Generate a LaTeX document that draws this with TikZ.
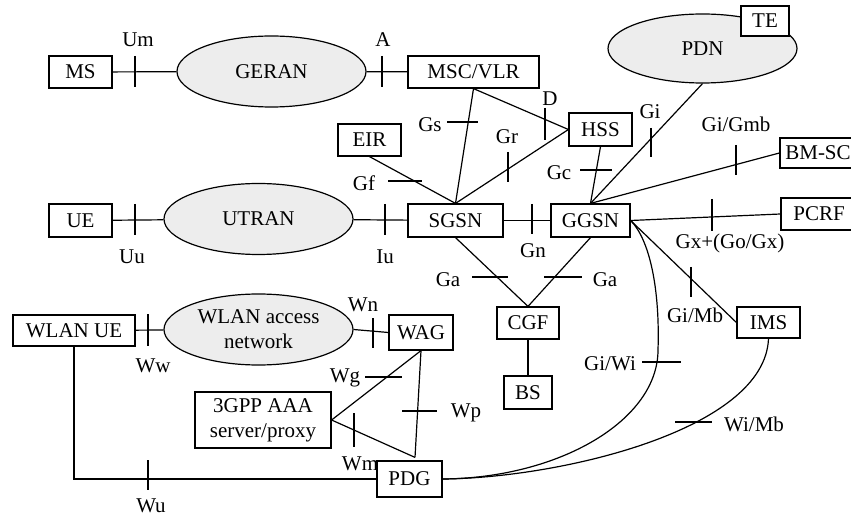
\documentclass[tikz,border=0pt]{standalone}
\usepackage{fontspec}
\setmainfont{Liberation Serif}
\usetikzlibrary{shapes.geometric}

\begin{document}
\begin{tikzpicture}[x=0.5pt,y=-0.5pt,line width=0.6pt,
    font=\fontsize{10.5}{12.5}\selectfont,
    box/.style={draw,fill=white,inner sep=2pt},
    net/.style={draw,ellipse,fill=black!7,inner sep=0pt,minimum width=94.5pt,minimum height=35.5pt}]
    \useasboundingbox (0,0) rectangle (851,518);

    % access networks
    \node[net] (geran) at (271.5,71.5) {GERAN};
    \node[net] (utran) at (258.5,219) {UTRAN};
    \node[net,align=center] (wlanan) at (258.5,329.5) {WLAN access\\network};
    \node[net,minimum height=34.5pt] (pdn) at (702.5,48.5) {\raisebox{-2pt}{PDN}};

    % network elements
    \node[box,minimum width=31.5pt,minimum height=16pt] (ms) at (80.5,72) {MS};
    \node[box,minimum width=65.5pt,minimum height=16pt] (msc) at (473.5,72) {MSC/VLR};
    \node[box,minimum width=24pt,minimum height=15pt] (te) at (765,21) {TE};
    \node[box,minimum width=31.5pt,minimum height=16pt] (eir) at (369.5,140) {EIR};
    \node[box,minimum width=31.5pt,minimum height=16.5pt] (hss) at (600.5,129.5) {HSS};
    \node[box,minimum width=38pt,minimum height=15pt] (bmsc) at (818,153) {BM-SC};
    \node[box,minimum width=31.5pt,minimum height=16.5pt] (ue) at (80.5,220.5) {UE};
    \node[box,minimum width=47.5pt,minimum height=16.5pt] (sgsn) at (455.5,220.5) {SGSN};
    \node[box,minimum width=39.5pt,minimum height=16.5pt] (ggsn) at (590.5,220.5) {GGSN};
    \node[box,minimum width=38pt,minimum height=16pt] (pcrf) at (819,214) {PCRF};
    \node[box,minimum width=31pt,minimum height=16pt] (cgf) at (528,323) {CGF};
    \node[box,minimum width=31.5pt,minimum height=15.5pt] (ims) at (768.5,322.5) {IMS};
    \node[box,minimum width=61pt,minimum height=15.5pt] (wlanue) at (74,330.5) {WLAN UE};
    \node[box,minimum width=32pt,minimum height=17.5pt] (wag) at (421,332.5) {WAG};
    \node[box,minimum width=24pt,minimum height=16.5pt] (bs) at (528,392.5) {BS};
    \node[box,minimum width=68pt,minimum height=28pt,align=center,inner sep=0pt] (aaa) at (263,420) {3GPP AAA\\server/proxy};
    \node[box,minimum width=32.5pt,minimum height=18pt] (pdg) at (409.5,479) {PDG};
    \coordinate (pdgtop) at ([xshift=2.75pt,yshift=1.5pt]pdg.north);
    \coordinate (wibend) at (658,350);

    % interfaces
    \draw (ms) -- (geran);
    \draw (geran) -- (msc);
    \draw (msc.south) -- (sgsn.north);
    \draw (msc.south) -- (hss.west);
    \draw (eir.south) -- (sgsn.north);
    \draw (sgsn.north) -- (hss.west);
    \draw (hss.south) -- (ggsn.north);
    \draw (pdn.south) -- (ggsn.north);
    \draw (bmsc.west) -- (ggsn.north);
    \draw (ue) -- (utran);
    \draw (utran) -- (sgsn);
    \draw (sgsn) -- (ggsn);
    \draw (ggsn.east) -- (pcrf.west);
    \draw (sgsn.south) -- (cgf.north);
    \draw (ggsn.south) -- (cgf.north);
    \draw (cgf) -- (bs);
    \draw (ggsn.east) -- (ims.west);
    \draw (ggsn.east) .. controls (650,240) and (660,290) .. (wibend)
        .. controls (658,420) and (560,478) .. (pdg.east);
    \draw (ims.south) .. controls (765,430) and (560,478) .. (pdg.east);
    \draw (wlanue) -- (wlanan);
    \draw (wlanan.east) -- (wag.west);
    \draw (wlanue.south) |- (pdg.west);
    \draw (aaa.east) -- (wag.south);
    \draw (aaa.east) -- (pdgtop);
    \draw (wag.south) -- (pdgtop);

    % reference point ticks
    \foreach \x/\y/\l in {135/56/31, 382/56/31, 545/108/32, 508/152/30, 651/128/29,
        736/145/30, 135/204/31, 385/204/31, 532/204/30, 712/199/32, 691/267/30,
        148/314/32, 373/318/30, 354/413/34, 148/460/30}
        \draw (\x,\y) -- ++(0,\l);
    \foreach \x/\y/\l in {447/122/31, 580/170/32, 388/181/34, 472/277/36, 544/277/38,
        365/377/37, 402/411/35, 642/362/39, 675/422/37}
        \draw (\x,\y) -- ++(\l,0);

    % reference point labels
    \node (lum) at (138,40) {Um};
    \node (la) at (383,40) {A};
    \node (ld) at (550,99) {D};
    \node (lgs) at (430,125) {Gs};
    \node (lgr) at (507,137) {Gr};
    \node (lgi) at (650,112) {Gi};
    \node (lgmb) at (736,124) {Gi/Gmb};
    \node (lgc) at (559,173) {Gc};
    \node (lgf) at (364,183) {Gf};
    \node (luu) at (132,257) {Uu};
    \node (liu) at (385,257) {Iu};
    \node (lgn) at (533,251) {Gn};
    \node (lgx) at (730,243) {Gx+(Go/Gx)};
    \node (lga1) at (448,280) {Ga};
    \node (lga2) at (605,280) {Ga};
    \node (lgimb) at (695,315) {Gi/Mb};
    \node (lwn) at (363,305) {Wn};
    \node (lww) at (153,366) {Ww};
    \node (lwg) at (345,378) {Wg};
    \node (lwm) at (360,464) {Wm};
    \node (lwp) at (466,413) {Wp};
    \node (lwu) at (151,506) {Wu};
    \node (lgiwi) at (610,364) {Gi/Wi};
    \node (lwimb) at (754,424) {Wi/Mb};
\end{tikzpicture}
\end{document}
